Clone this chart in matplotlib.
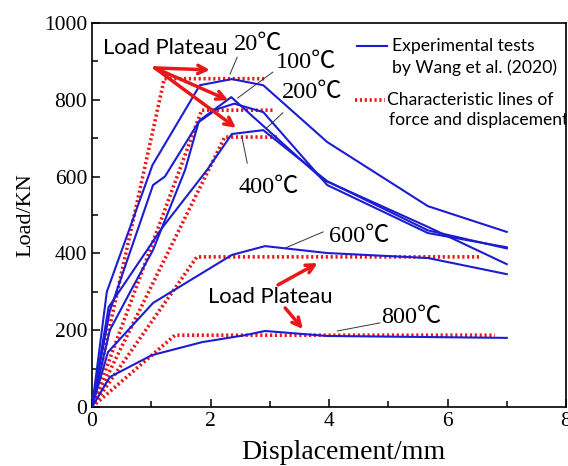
import numpy as np
from matplotlib import pyplot as plt
from matplotlib.lines import Line2D

plt.rcParams["font.family"] = ["Liberation Serif", "Noto Sans CJK SC"]

# experimental load-displacement curves
exp_20_x = [0, 0.25, 1.02, 1.82, 2.36, 2.89, 3.97, 5.67, 7.0]
exp_20_y = [0, 300, 630, 838, 854, 838, 690, 523, 456]
exp_100_x = [0, 0.3, 1.03, 1.23, 1.82, 2.35, 3.9, 5.67, 7.0]
exp_100_y = [0, 250, 578, 600, 747, 807, 592, 469, 372]
exp_200_x = [0, 0.3, 0.68, 1.03, 1.57, 1.8, 2.1, 2.4, 2.89, 3.97, 5.67, 7.0]
exp_200_y = [0, 200, 310, 409, 617, 742, 775, 790, 768, 578, 453, 416]
exp_400_x = [0, 0.28, 1.18, 1.94, 2.36, 2.89, 3.97, 5.67, 7.0]
exp_400_y = [0, 260, 466, 617, 711, 721, 588, 460, 413]
exp_600_x = [0, 0.27, 1.03, 2.36, 2.92, 3.97, 5.67, 7.0]
exp_600_y = [0, 143, 271, 396, 419, 401, 388, 346]
exp_800_x = [0, 0.3, 1.01, 1.86, 2.58, 2.92, 3.97, 7.0]
exp_800_y = [0, 78, 135, 169, 187, 198, 185, 180]

# characteristic (bilinear) lines
char_20_x = [0, 1.22, 2.92]
char_20_y = [0, 855, 855]
char_100_x = [0, 1.85, 3.05]
char_100_y = [0, 773, 773]
char_400_x = [0, 2.24, 3.17]
char_400_y = [0, 703, 703]
char_600_x = [0, 1.77, 6.58]
char_600_y = [0, 391, 391]
char_800_x = [0, 1.4, 6.8]
char_800_y = [0, 187, 187]

exp_curves = [(exp_20_x, exp_20_y), (exp_100_x, exp_100_y), (exp_200_x, exp_200_y),
              (exp_400_x, exp_400_y), (exp_600_x, exp_600_y), (exp_800_x, exp_800_y)]
char_curves = [(char_20_x, char_20_y), (char_100_x, char_100_y), (char_400_x, char_400_y),
               (char_600_x, char_600_y), (char_800_x, char_800_y)]

# temperature labels: text, text position, leader line start/end
temp_labels = ["20\u2103", "100\u2103", "200\u2103", "400\u2103", "600\u2103", "800\u2103"]
temp_pos = [(2.80, 943), (3.61, 898), (3.71, 820), (2.99, 573), (4.51, 443), (5.38, 234)]
leader_from = [(2.45, 911), (3.05, 872), (3.22, 766), (2.53, 703), (3.90, 456), (4.86, 219)]
leader_to = [(2.33, 867), (2.46, 805), (2.95, 727), (2.62, 635), (3.26, 414), (4.14, 198)]

blue = "#1c1cd2"
red = "#e81818"

fig = plt.figure(figsize=(5.68, 4.66), dpi=100)
ax = fig.add_axes([0.162, 0.1266, 0.8345, 0.824])

for cx, cy in exp_curves:
    ax.plot(cx, cy, color=blue, lw=1.5, zorder=3)
for cx, cy in char_curves:
    ax.plot(cx, cy, color=red, lw=2.6, linestyle=(0, (0.6, 0.75)), zorder=2)

for txt, pos, p0, p1 in zip(temp_labels, temp_pos, leader_from, leader_to):
    ax.text(pos[0], pos[1], txt, fontsize=17.5, ha="center", va="center")
    ax.plot([p0[0], p1[0]], [p0[1], p1[1]], color="#333333", lw=0.7)

# load plateau arrows
arr = dict(arrowstyle="->,head_length=0.6,head_width=0.3", color=red, lw=2.5,
           shrinkA=0, shrinkB=0)
ax.text(1.23, 935, "Load Plateau", family="Lato", fontsize=15.8, ha="center", va="center")
for tip in [(1.99, 878), (2.30, 799), (2.43, 727)]:
    ax.annotate("", xy=tip, xytext=(1.06, 883), arrowprops=arr)
ax.text(3.0, 286, "Load Plateau", family="Lato", fontsize=15.8, ha="center", va="center")
ax.annotate("", xy=(3.81, 375), xytext=(3.14, 318), arrowprops=arr)
ax.annotate("", xy=(3.56, 203), xytext=(3.26, 258), arrowprops=arr)

# legend drawn by hand so the handle sits on the first line
ax.add_line(Line2D([0.559, 0.622], [0.940, 0.940], color=blue, lw=1.5, transform=ax.transAxes))
ax.add_line(Line2D([0.555, 0.618], [0.799, 0.799], color=red, lw=2.6,
                   linestyle=(0, (0.6, 0.75)), transform=ax.transAxes))
leg_kw = dict(transform=ax.transAxes, family="Lato", fontsize=12.6, va="center", ha="left")
ax.text(0.633, 0.940, "Experimental tests", **leg_kw)
ax.text(0.633, 0.883, "by Wang et al. (2020)", **leg_kw)
ax.text(0.622, 0.799, "Characteristic lines of", **leg_kw)
ax.text(0.627, 0.747, "force and displacement", clip_on=True, **leg_kw)

ax.set_xlim(0, 8)
ax.set_ylim(0, 1000)
ax.set_xticks([0, 2, 4, 6, 8])
ax.set_xticks([1, 3, 5, 7], minor=True)
ax.set_yticks(np.arange(0, 1001, 200))
ax.set_yticks(np.arange(100, 1000, 200), minor=True)
ax.tick_params(which="both", direction="in", labelsize=15.5, width=1.1)
ax.tick_params(which="major", length=6)
ax.tick_params(which="minor", length=4)
for s in ax.spines.values():
    s.set_linewidth(1.2)
ax.set_xlabel("Displacement/mm", fontsize=20)
ax.xaxis.set_label_coords(0.53, -0.086)
ax.set_ylabel("Load/KN", fontsize=16, labelpad=6)

fig.savefig("out.png", dpi=100)
